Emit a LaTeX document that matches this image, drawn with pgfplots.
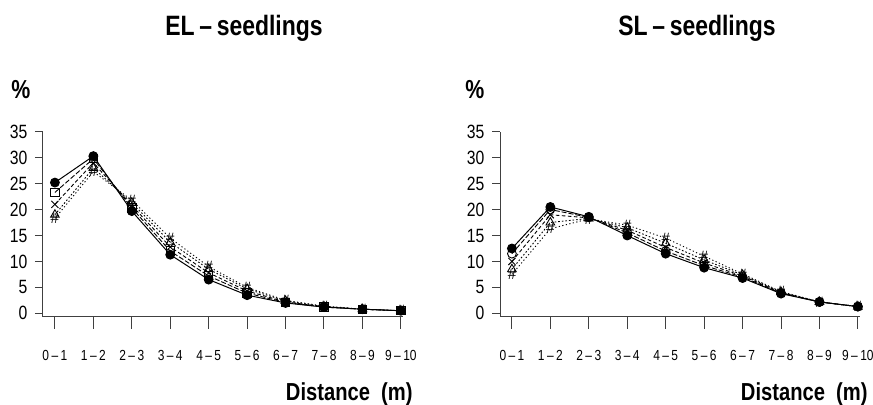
\documentclass[border=0pt]{standalone}
\usepackage{fontspec}
\setmainfont{Liberation Sans}
\newfontfamily\narrow[FakeStretch=0.82,Ligatures=TeX]{Liberation Sans}
\usepackage{pgfplots}
\usepackage{pgfplotstable}
\pgfplotsset{compat=1.18}

% % seedlings per distance class, five series per panel
\pgfplotstableread{
x a b c d e
0 25.2 23.3 21.0 19.0 18.3
1 30.3 29.8 29.0 28.0 27.3
2 19.7 20.3 20.8 21.3 21.8
3 11.3 12.0 12.8 13.7 14.5
4 6.5 7.2 7.8 8.5 9.0
5 3.5 3.9 4.3 4.7 5.0
6 2.0 2.1 2.2 2.4 2.5
7 1.2 1.2 1.3 1.3 1.4
8 0.8 0.8 0.8 0.8 0.8
9 0.5 0.5 0.5 0.5 0.5
}\eldata

\pgfplotstableread{
x a b c d e
0 12.5 11.5 10.0 8.5 7.5
1 20.5 20.0 19.0 17.5 16.3
2 18.6 18.5 18.4 18.3 18.2
3 15.0 15.5 16.0 16.5 17.0
4 11.5 12.0 12.7 13.5 14.5
5 8.8 9.2 9.7 10.3 11.0
6 6.8 7.0 7.2 7.4 7.6
7 3.8 3.9 4.0 4.1 4.2
8 2.2 2.2 2.2 2.2 2.2
9 1.3 1.3 1.3 1.3 1.3
}\sldata

\pgfplotsset{
  panel/.style={
    anchor=south west, scale only axis,
    width=179.9pt, height=92.5pt,
    xmin=-0.31, xmax=9.05, ymin=-0.65, ymax=35,
    axis x line=bottom, axis y line=left,
    axis line style={black!75, line width=0.5pt, -},
    tick align=outside,
    xtick={0,...,9}, ytick={0,5,...,35},
    xticklabels={0\,–\,1,1\,–\,2,2\,–\,3,3\,–\,4,4\,–\,5,5\,–\,6,6\,–\,7,7\,–\,8,8\,–\,9,9\,–\,10},
    xtick style={black!75, line width=0.5pt, /pgfplots/major tick length=6pt},
    ytick style={black!75, line width=0.5pt, /pgfplots/major tick length=4pt},
    /pgf/number format/assume math mode=true,
    xticklabel style={font=\narrow\fontsize{7.3}{8}\selectfont, yshift=-9pt},
    yticklabel style={font=\narrow\fontsize{9.6}{10}\selectfont},
    clip=false,
  },
  sa/.style={black, line width=0.5pt, mark=*, mark size=2.2pt},
  sb/.style={black, line width=0.45pt, dash pattern=on 2.5pt off 1pt, mark options={solid}},
  sc/.style={black, line width=0.45pt, dash pattern=on 1.8pt off 1.2pt, mark=x, mark size=2.5pt, mark options={solid}},
  sd/.style={black, line width=0.45pt, dash pattern=on 0.8pt off 1pt, mark=triangle, mark size=2.5pt, mark options={solid}},
  se/.style={black, line width=0.45pt, dash pattern=on 0.6pt off 1.2pt, mark=text, text mark={\fontsize{7.5}{7.5}\selectfont\#}},
}

\begin{document}
\begin{tikzpicture}
\path[use as bounding box] (0,0) rectangle (436.5pt,202pt);

\begin{axis}[panel, at={(21.5pt,43.65pt)}]
\addplot[sa] table[x=x, y=a] {\eldata};
\addplot[sb, mark=square, mark size=2.1pt] table[x=x, y=b] {\eldata};
\addplot[sc] table[x=x, y=c] {\eldata};
\addplot[sd] table[x=x, y=d] {\eldata};
\addplot[se] table[x=x, y=e] {\eldata};
\end{axis}

\begin{axis}[panel, at={(250pt,43.65pt)}]
\addplot[sa] table[x=x, y=a] {\sldata};
\addplot[sb, mark=o, mark size=2.2pt] table[x=x, y=b] {\sldata};
\addplot[sc] table[x=x, y=c] {\sldata};
\addplot[sd] table[x=x, y=d] {\sldata};
\addplot[se] table[x=x, y=e] {\sldata};
\end{axis}

\node[anchor=base, font=\narrow\bfseries\fontsize{14}{15}\selectfont] at (122pt,184.5pt) {EL\,–\,seedlings};
\node[anchor=base, font=\narrow\bfseries\fontsize{14}{15}\selectfont] at (348.5pt,184.5pt) {SL\,–\,seedlings};
\node[anchor=base west, inner sep=0pt, font=\narrow\bfseries\fontsize{13}{14}\selectfont] at (5.5pt,153pt) {\%};
\node[anchor=base west, inner sep=0pt, font=\narrow\bfseries\fontsize{13}{14}\selectfont] at (232.5pt,153pt) {\%};
\node[anchor=base east, inner sep=0pt, font=\narrow\bfseries\fontsize{12.3}{14}\selectfont] at (206.5pt,2pt) {Distance\ \ (m)};
\node[anchor=base east, inner sep=0pt, font=\narrow\bfseries\fontsize{12.3}{14}\selectfont] at (434pt,2pt) {Distance\ \ (m)};
\end{tikzpicture}
\end{document}
